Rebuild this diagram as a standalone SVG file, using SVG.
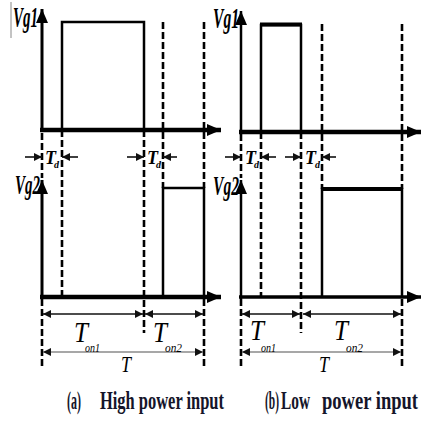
<svg xmlns="http://www.w3.org/2000/svg" width="423" height="421" viewBox="0 0 423 421">
<style>
.ax{stroke:#000;fill:none}
.pulse{stroke:#000;fill:none;stroke-width:2.5}
.dash{stroke:#000;stroke-width:2.6;stroke-dasharray:7 3;fill:none}
.dim{stroke:#111;stroke-width:1.6;fill:none}
.dimT{stroke:#8a8a8a;stroke-width:1.6;fill:none}
.lbl{font-family:"Liberation Serif",serif;font-style:italic;font-weight:bold;fill:#000}
.sub{font-family:"Liberation Serif",serif;font-style:italic;font-weight:normal;fill:#000}
.cap{font-family:"Liberation Serif",serif;fill:#15152a;font-size:25px;font-weight:bold}
</style>
<defs>
<marker id="ah" markerUnits="userSpaceOnUse" markerWidth="16" markerHeight="12" refX="14" refY="6" orient="auto">
<path d="M0,0 L14,6 L0,12 Z" fill="#000"/>
</marker>
<marker id="da" markerUnits="userSpaceOnUse" markerWidth="10" markerHeight="8" refX="8" refY="4" orient="auto-start-reverse">
<path d="M0,0 L8,4 L0,8 Z" fill="#111"/>
</marker>
</defs>
<line x1="11" y1="2" x2="11" y2="38" stroke="#888" stroke-width="1"/>
<g id="panel-a-vg1">
<line class="ax" x1="40" y1="130" x2="221" y2="130" stroke-width="4.5" marker-end="url(#ah)"/>
<line class="ax" x1="42" y1="132" x2="42" y2="9" stroke-width="3" marker-end="url(#ah)"/>
<path class="pulse" d="M62,130 V22 H144 V130"/>
<text class="lbl" x="13" y="27" font-size="30" textLength="25" lengthAdjust="spacingAndGlyphs">Vg1</text>
</g>
<g id="panel-a-vg2">
<line class="ax" x1="40" y1="297" x2="221" y2="297" stroke-width="4.5" marker-end="url(#ah)"/>
<line class="ax" x1="42" y1="299" x2="42" y2="180" stroke-width="3" marker-end="url(#ah)"/>
<path class="pulse" d="M163,297 V188 H204 V297"/>
<text class="lbl" x="15" y="194" font-size="27" textLength="25" lengthAdjust="spacingAndGlyphs">Vg2</text>
</g>
<g id="panel-b-vg1">
<line class="ax" x1="239" y1="132" x2="421" y2="132" stroke-width="4.5" marker-end="url(#ah)"/>
<line class="ax" x1="241" y1="134" x2="241" y2="11" stroke-width="2.5" marker-end="url(#ah)"/>
<path class="pulse" d="M261,132 V25 H301 V132" stroke-width="2"/>
<line x1="260" y1="24.5" x2="302" y2="24.5" stroke="#000" stroke-width="4"/>
<text class="lbl" x="213" y="28" font-size="29" textLength="26" lengthAdjust="spacingAndGlyphs">Vg1</text>
</g>
<g id="panel-b-vg2">
<line class="ax" x1="239" y1="297" x2="421" y2="297" stroke-width="3.5" marker-end="url(#ah)"/>
<line class="ax" x1="241" y1="299" x2="241" y2="180" stroke-width="2.5" marker-end="url(#ah)"/>
<path class="pulse" d="M322,297 V189 H402 V297"/>
<line x1="321" y1="189" x2="403" y2="189" stroke="#000" stroke-width="4"/>
<text class="lbl" x="213" y="195" font-size="27" textLength="26" lengthAdjust="spacingAndGlyphs">Vg2</text>
</g>
<g id="connectors">
<path class="dash" d="M42,133 V178 M42,299 V366 M62,130 V297 M144,130 V333 M163,22 V188 M204,22 V188 M204,299 V366"/>
<path class="dash" d="M241,134 V178 M241,299 V366 M261,132 V297 M301,132 V333 M322,24 V189 M402,24 V189 M402,299 V366"/>
<line class="dim" x1="25" y1="157" x2="42" y2="157" marker-end="url(#da)"/>
<line class="dim" x1="78" y1="157" x2="62" y2="157" marker-end="url(#da)"/>
<line class="dim" x1="127" y1="157" x2="144" y2="157" marker-end="url(#da)"/>
<line class="dim" x1="177" y1="157" x2="163" y2="157" marker-end="url(#da)"/>
<line class="dim" x1="225" y1="157" x2="241" y2="157" marker-end="url(#da)"/>
<line class="dim" x1="276" y1="157" x2="261" y2="157" marker-end="url(#da)"/>
<line class="dim" x1="285" y1="157" x2="301" y2="157" marker-end="url(#da)"/>
<line class="dim" x1="336" y1="157" x2="322" y2="157" marker-end="url(#da)"/>
<line class="dim" x1="43" y1="314" x2="143" y2="314" marker-start="url(#da)" marker-end="url(#da)"/>
<line class="dim" x1="145" y1="314" x2="203" y2="314" marker-start="url(#da)" marker-end="url(#da)"/>
<line class="dim" x1="242" y1="314" x2="300" y2="314" marker-start="url(#da)" marker-end="url(#da)"/>
<line class="dim" x1="303" y1="314" x2="401" y2="314" marker-start="url(#da)" marker-end="url(#da)"/>
<line class="dimT" x1="43" y1="352" x2="203" y2="352" marker-start="url(#da)" marker-end="url(#da)"/>
<line class="dimT" x1="242" y1="352" x2="401" y2="352" marker-start="url(#da)" marker-end="url(#da)"/>
</g>
<g id="labels">
<text class="lbl" x="45" y="164" font-size="19" textLength="11" lengthAdjust="spacingAndGlyphs">T</text>
<text class="lbl" x="54" y="168" font-size="10">d</text>
<text class="lbl" x="147" y="164" font-size="19" textLength="11" lengthAdjust="spacingAndGlyphs">T</text>
<text class="lbl" x="156" y="168" font-size="10">d</text>
<text class="lbl" x="245" y="164" font-size="19" textLength="11" lengthAdjust="spacingAndGlyphs">T</text>
<text class="lbl" x="254" y="168" font-size="10">d</text>
<text class="lbl" x="305" y="164" font-size="19" textLength="11" lengthAdjust="spacingAndGlyphs">T</text>
<text class="lbl" x="315" y="168" font-size="10">d</text>
<text class="sub" x="74" y="342" font-size="30" textLength="14" lengthAdjust="spacingAndGlyphs">T</text>
<text class="sub" x="85" y="352" font-size="12" textLength="15" lengthAdjust="spacingAndGlyphs">on1</text>
<text class="sub" x="153" y="342" font-size="30" textLength="14" lengthAdjust="spacingAndGlyphs">T</text>
<text class="sub" x="165" y="352" font-size="12" textLength="17" lengthAdjust="spacingAndGlyphs">on2</text>
<text class="sub" x="121" y="372" font-size="23" textLength="10" lengthAdjust="spacingAndGlyphs">T</text>
<text class="sub" x="250" y="340" font-size="30" textLength="14" lengthAdjust="spacingAndGlyphs">T</text>
<text class="sub" x="261" y="352" font-size="12" textLength="15" lengthAdjust="spacingAndGlyphs">on1</text>
<text class="sub" x="334" y="340" font-size="30" textLength="14" lengthAdjust="spacingAndGlyphs">T</text>
<text class="sub" x="346" y="352" font-size="12" textLength="17" lengthAdjust="spacingAndGlyphs">on2</text>
<text class="sub" x="319" y="372" font-size="23" textLength="10" lengthAdjust="spacingAndGlyphs">T</text>
<text class="cap" x="67" y="409" textLength="14" lengthAdjust="spacingAndGlyphs">(a)</text>
<text class="cap" x="100" y="409" textLength="124" lengthAdjust="spacingAndGlyphs">High power input</text>
<text class="cap" x="265" y="409" textLength="14" lengthAdjust="spacingAndGlyphs">(b)</text>
<text class="cap" x="281" y="409" textLength="29" lengthAdjust="spacingAndGlyphs">Low</text>
<text class="cap" x="322" y="409" textLength="96" lengthAdjust="spacingAndGlyphs">power input</text>
</g>
</svg>
